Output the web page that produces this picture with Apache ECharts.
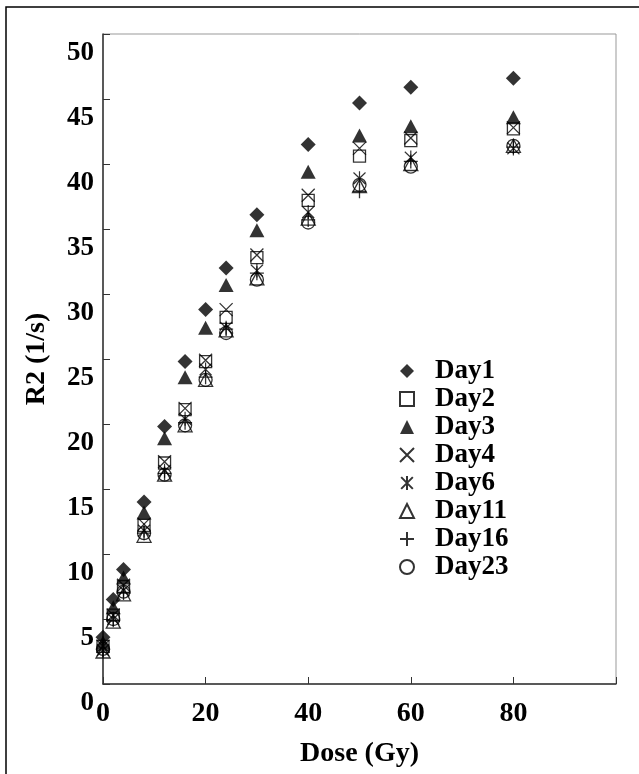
<!DOCTYPE html>
<html>
<head>
<meta charset="utf-8">
<title>R2 vs Dose</title>
<script src="https://cdn.jsdelivr.net/npm/echarts@6/dist/echarts.min.js"></script>
<style>
  html, body { margin: 0; padding: 0; background: #fff; }
  #chart { width: 639px; height: 774px; }
</style>
</head>
<body>
<div id="chart"></div>
<script>
// dose values (Gy)
var doses = [0, 2, 4, 8, 12, 16, 20, 24, 30, 40, 50, 60, 80];
var xTicks = [0, 20, 40, 60, 80];
var yTicks = [0, 5, 10, 15, 20, 25, 30, 35, 40, 45, 50];

// R2 (1/s), one value per dose
var day1  = [3.6, 6.5, 8.8, 14.0, 19.8, 24.8, 28.8, 32.0, 36.1, 41.5, 44.7, 45.9, 46.6];
var day2  = [2.9, 5.3, 7.5, 12.2, 17.0, 21.1, 24.8, 28.2, 32.8, 37.2, 40.6, 41.8, 42.7];
var day3  = [3.2, 5.9, 8.2, 13.2, 18.9, 23.6, 27.4, 30.7, 34.9, 39.4, 42.2, 42.9, 43.6];
var day4  = [2.9, 5.3, 7.6, 12.3, 17.1, 21.2, 24.9, 28.8, 33.0, 37.6, 41.2, 42.0, 42.8];
var day6  = [2.6, 5.0, 7.2, 11.8, 16.4, 20.4, 24.2, 27.4, 31.8, 36.3, 38.9, 40.5, 41.2];
var day11 = [2.5, 4.8, 6.9, 11.4, 16.1, 19.9, 23.4, 27.2, 31.2, 35.8, 38.3, 40.0, 41.4];
var day16 = [2.6, 4.9, 7.0, 11.6, 16.2, 20.1, 23.6, 27.3, 31.6, 35.7, 37.9, 40.2, 41.3];
var day23 = [2.7, 5.0, 7.1, 11.6, 16.1, 19.9, 23.4, 27.0, 31.1, 35.5, 38.4, 39.8, 41.4];

var seriesNames = ['Day1', 'Day2', 'Day3', 'Day4', 'Day6', 'Day11', 'Day16', 'Day23'];

var chart = echarts.init(document.getElementById('chart'));
var serif = '"Liberation Serif", "Times New Roman", serif';
var hollow = 'rgba(0,0,0,0)';

function pts(vals) {
  return doses.map(function (d, i) { return [d, vals[i]]; });
}

function sc(name, vals, symbol, size, filled) {
  return {
    name: name,
    type: 'scatter',
    data: pts(vals),
    symbol: symbol,
    symbolSize: size,
    itemStyle: {
      color: filled ? '#000' : hollow,
      borderColor: '#000',
      borderWidth: filled ? 0 : 1.3
    },
    emphasis: { disabled: true }
  };
}

var crossPath = 'path://M0,0L10,10M10,0L0,10';
var starPath = 'path://M0,1L10,11M10,1L0,11M5,0L5,12';
var plusPath = 'path://M6,0L6,12M0,6L12,6';

var option = {
  backgroundColor: '#fff',
  animation: false,
  graphic: [{
    type: 'rect',
    shape: { x: 6, y: 7, width: 700, height: 800 },
    style: { fill: 'none', stroke: '#000', lineWidth: 1.5 }
  }],
  grid: {
    left: 103, top: 34, right: 23, bottom: 90,
    show: true, borderColor: '#999', borderWidth: 1
  },
  legend: {
    orient: 'vertical',
    left: 394, top: 352,
    itemWidth: 14, itemHeight: 14,
    itemGap: 0,
    data: seriesNames,
    textStyle: {
      fontFamily: serif, fontWeight: 'bold', fontSize: 27,
      color: '#000', lineHeight: 28,
      padding: [0, 0, 0, 16]
    }
  },
  xAxis: {
    type: 'value',
    min: 0, max: 100, interval: 20,
    name: 'Dose (Gy)',
    nameLocation: 'middle',
    nameGap: 56,
    nameTextStyle: { fontFamily: serif, fontWeight: 'bold', fontSize: 28, color: '#000' },
    axisLine: { lineStyle: { color: '#333', width: 1.5 } },
    axisTick: { inside: true, length: 7, lineStyle: { color: '#333' } },
    splitLine: { show: false },
    axisLabel: {
      margin: 16,
      fontFamily: serif, fontWeight: 'bold', fontSize: 28, color: '#000',
      formatter: function (v) { return xTicks.indexOf(v) >= 0 ? String(v) : ''; }
    }
  },
  yAxis: {
    type: 'value',
    min: 0, max: 50, interval: 5,
    name: 'R2 (1/s)',
    nameLocation: 'middle',
    nameGap: 52,
    nameRotate: 90,
    nameTextStyle: { fontFamily: serif, fontWeight: 'bold', fontSize: 28, color: '#000' },
    axisLine: { lineStyle: { color: '#333', width: 1.5 } },
    axisTick: { inside: true, length: 7, lineStyle: { color: '#333' } },
    splitLine: { show: false },
    axisLabel: {
      margin: 9,
      verticalAlign: 'top',
      lineHeight: 38,
      fontFamily: serif, fontWeight: 'bold', fontSize: 27, color: '#000',
      formatter: function (v) { return yTicks.indexOf(v) >= 0 ? String(v) : ''; }
    }
  },
  series: [
    sc('Day1', day1, 'diamond', [15, 15], true),
    sc('Day2', day2, 'rect', 12, false),
    sc('Day3', day3, 'triangle', [15, 14], true),
    sc('Day4', day4, crossPath, 13, false),
    sc('Day6', day6, starPath, [12, 14], false),
    sc('Day11', day11, 'triangle', [14, 13], false),
    sc('Day16', day16, plusPath, 14, false),
    sc('Day23', day23, 'circle', 13, false)
  ]
};

chart.setOption(option);
</script>
</body>
</html>
